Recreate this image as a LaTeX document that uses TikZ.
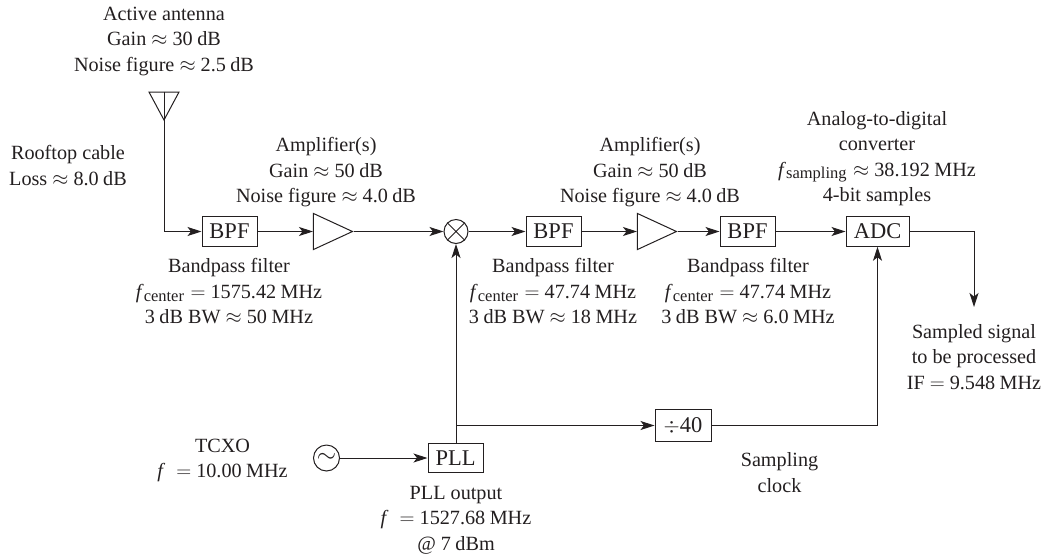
\documentclass[tikz,border=0pt]{standalone}
\usepackage{fontspec}
\setmainfont{Liberation Serif}
\usetikzlibrary{arrows.meta,shapes.geometric}
\newcommand\fsub[1]{\textit{f}\raisebox{-0.3ex}{\fontsize{16.5}{16.5}\selectfont #1}\hspace{1.5pt}}
\newcommand\ff{\textit{f}\hspace{6pt}}
\newcommand\apx{\ $\approx$\ }
\newcommand\eqs{\ $=$\ }
\newcommand\thn{\hspace{0.22em}}
\definecolor{ink}{HTML}{231F20}
\tikzset{
  x=1pt,y=-1pt,
  every node/.style={font=\fontsize{20.2}{25.5}\selectfont,text=ink},
  lbl/.style={align=center,inner sep=0},
  blockbox/.style={draw=ink,line width=1pt,minimum height=29.5pt,inner sep=0,font=\fontsize{22.5}{25}\selectfont},
  ampl/.style={draw=ink,line width=1pt,isosceles triangle,isosceles triangle stretches,shape border rotate=0,minimum width=36pt,minimum height=39pt,inner sep=0},
  antsym/.style={draw=ink,line width=1pt,isosceles triangle,isosceles triangle stretches,shape border rotate=270,minimum width=30pt,minimum height=28pt,inner sep=0},
  round/.style={draw=ink,line width=1pt,circle,inner sep=0},
  wire/.style={draw=ink,line width=1pt},
  arrow/.style={wire,-{Stealth[length=14pt,width=9pt,inset=3.5pt]}},
}
\begin{document}
\begin{tikzpicture}
\useasboundingbox (0,0) rectangle (1043,555);
% blocks
\node[antsym] (ant) at (164,101) {};
\node[blockbox,minimum width=55pt] (bpfa) at (229.5,231.5) {BPF};
\node[ampl] (ampa) at (325,231.5) {};
\node[round,minimum size=24pt] (mix) at (456,231.5) {};
\node[blockbox,minimum width=55pt] (bpfb) at (553.5,231.5) {BPF};
\node[ampl] (ampb) at (649,231.5) {};
\node[blockbox,minimum width=55pt] (bpfc) at (747.5,231.5) {BPF};
\node[blockbox,minimum width=63pt] (adc) at (877.5,231.5) {ADC};
\node[round,minimum size=26pt,font=\fontsize{24.88}{25}\selectfont] (osc) at (326.5,458) {$\sim$};
\node[blockbox,minimum width=55pt] (pll) at (455.5,458) {PLL};
\node[blockbox,minimum width=56pt,minimum height=32pt] (div) at (683,425.5) {$\div$40};
\coordinate (tap) at (456,425.5);
\coordinate (outend) at (974,307);
% mixer cross
\draw[wire] (mix.45) -- (mix.225) (mix.135) -- (mix.315);
% antenna mast and connectors
\draw[arrow] (ant.lower side) |- (bpfa.west);
\draw[arrow] (bpfa.east) -- (ampa.lower side);
\draw[arrow] (ampa.apex) -- (mix.west);
\draw[arrow] (mix.east) -- (bpfb.west);
\draw[arrow] (bpfb.east) -- (ampb.lower side);
\draw[arrow] (ampb.apex) -- (bpfc.west);
\draw[arrow] (bpfc.east) -- (adc.west);
\draw[arrow] (adc.east) -| (outend);
\draw[arrow] (pll.north -| tap) -- (mix.south);
\draw[arrow] (tap) -- (div.west);
\draw[arrow] (div.east) -| (adc.south);
\draw[arrow] (osc.east) -- (pll.west);
% labels
\node[lbl] (t1) at (164,41) {Active antenna\\Gain\apx 30\thn dB\\Noise figure\apx 2.5\thn dB};
\node[lbl] (t2) at (68,165.5) {Rooftop cable\\Loss\apx 8.0\thn dB};
\node[lbl] (t3) at (326,172.5) {Amplifier(s)\\Gain\apx 50\thn dB\\Noise figure\apx 4.0\thn dB};
\node[lbl] (t4) at (650,172.5) {Amplifier(s)\\Gain\apx 50\thn dB\\Noise figure\apx 4.0\thn dB};
\node[lbl] (t5) at (877,158.5) {Analog-to-digital\\converter\\\fsub{sampling}\apx 38.192\thn MHz\\4-bit samples};
\node[lbl] (t6) at (229,291.5) {Bandpass filter\\\fsub{center}\eqs 1575.42\thn MHz\\3\thn dB BW\apx 50\thn MHz};
\node[lbl] (t7) at (553,291.5) {Bandpass filter\\\fsub{center}\eqs 47.74\thn MHz\\3\thn dB BW\apx 18\thn MHz};
\node[lbl] (t8) at (748,291.5) {Bandpass filter\\\fsub{center}\eqs 47.74\thn MHz\\3\thn dB BW\apx 6.0\thn MHz};
\node[lbl] (t9) at (974,357) {Sampled signal\\to be processed\\IF\eqs 9.548\thn MHz};
\node[lbl] (t10) at (222.5,460.5) {TCXO\\\ff\eqs 10.00\thn MHz};
\node[lbl] (t11) at (779.5,472.5) {Sampling\\clock};
\node[lbl] (t12) at (456,520) {PLL output\\\ff\eqs 1527.68\thn MHz\\@ 7\thn dBm};
\end{tikzpicture}
\end{document}
